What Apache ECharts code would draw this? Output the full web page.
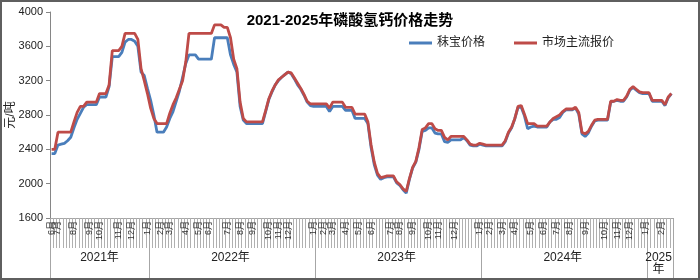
<!DOCTYPE html>
<html>
<head>
<meta charset="utf-8">
<script src="https://cdn.jsdelivr.net/npm/echarts@6/dist/echarts.min.js"></script>
<style>html,body{margin:0;padding:0;background:#fff;}#c{width:700px;height:280px;}</style>
</head>
<body>
<div id="c"></div>
<script>
// ---- Data ----
const titleText = '2021-2025年磷酸氢钙价格走势';
const seriesNames = ['秣宝价格', '市场主流报价'];
const yTicks = [1600, 2000, 2400, 2800, 3200, 3600, 4000];

// month tick labels: [category index, label]
const monthTicks = [
  [0,'6月'],[2,'7月'],[7,'8月'],[12,'9月'],[15,'10月'],[21,'11月'],[25,'12月'],[30,'1月'],
  [34,'2月'],[37,'3月'],[42,'4月'],[46,'5月'],[49,'6月'],[55,'7月'],[59,'8月'],[63,'9月'],[68,'10月'],[71,'11月'],[74,'12月'],[82,'1月'],
  [85,'2月'],[88,'3月'],[92,'4月'],[96,'5月'],[100,'6月'],[106,'7月'],[109,'8月'],[113,'9月'],[118,'10月'],[121,'11月'],[126,'12月'],[134,'1月'],
  [137,'2月'],[141,'3月'],[145,'4月'],[150,'5月'],[154,'6月'],[158,'7月'],[162,'8月'],[167,'9月'],[173,'10月'],[177,'11月'],[181,'12月'],[186,'1月'],
  [191,'2月']
];
// year groups: [label, number of categories]
const yearGroups = [['2021年',31],['2022年',52],['2023年',52],['2024年',52],['2025\n年',8]];

const mobaoPrice = [
  2350,2350,2450,2460,2470,2500,2540,2650,2750,2820,
  2890,2920,2920,2920,2920,3010,3010,3010,3130,3480,
  3480,3480,3530,3650,3680,3680,3660,3600,3300,3260,
  3110,2970,2800,2600,2600,2600,2660,2760,2840,2960,
  3080,3240,3400,3500,3500,3500,3450,3450,3450,3450,
  3450,3700,3700,3700,3700,3700,3500,3390,3300,2900,
  2740,2700,2700,2700,2700,2700,2700,2840,2980,3070,
  3150,3200,3240,3270,3300,3280,3220,3150,3100,3030,
  2950,2910,2900,2900,2900,2900,2900,2840,2900,2900,
  2900,2900,2855,2855,2855,2760,2760,2760,2760,2700,
  2420,2220,2100,2050,2070,2080,2080,2080,2010,1980,
  1930,1890,2050,2180,2250,2400,2610,2620,2650,2650,
  2590,2580,2580,2490,2480,2510,2510,2510,2510,2540,
  2500,2450,2440,2440,2460,2450,2440,2440,2440,2440,
  2440,2440,2490,2590,2650,2760,2890,2890,2790,2640,
  2660,2670,2660,2660,2660,2660,2720,2750,2750,2770,
  2830,2860,2860,2860,2880,2810,2580,2550,2590,2670,
  2730,2740,2740,2740,2740,2950,2960,2970,2960,2960,
  3010,3090,3120,3090,3060,3050,3050,3050,2960,2960,
  2960,2960,2910,3000,3050
];
const marketPrice = [
  2400,2400,2600,2600,2600,2600,2600,2720,2830,2900,
  2900,2950,2950,2950,2950,3050,3050,3050,3150,3550,
  3550,3550,3600,3750,3750,3750,3750,3680,3340,3200,
  3050,2880,2760,2700,2700,2700,2700,2820,2920,3000,
  3100,3200,3420,3750,3750,3750,3750,3750,3750,3750,
  3750,3850,3850,3850,3820,3820,3700,3450,3340,2950,
  2760,2720,2720,2720,2720,2720,2720,2850,2990,3080,
  3150,3210,3240,3270,3300,3290,3230,3170,3110,3040,
  2960,2930,2930,2930,2930,2930,2930,2880,2950,2950,
  2950,2950,2890,2890,2890,2810,2810,2810,2810,2720,
  2450,2250,2120,2070,2080,2090,2090,2090,2020,1990,
  1940,1910,2060,2190,2260,2420,2630,2650,2700,2700,
  2640,2620,2620,2540,2510,2550,2550,2550,2550,2550,
  2510,2460,2450,2450,2470,2460,2450,2450,2450,2450,
  2450,2450,2500,2600,2660,2760,2900,2910,2810,2700,
  2700,2700,2670,2670,2670,2670,2720,2760,2780,2800,
  2840,2870,2870,2870,2890,2830,2600,2580,2610,2680,
  2740,2750,2750,2750,2750,2960,2960,2980,2970,2970,
  3020,3100,3130,3100,3070,3060,3060,3060,2970,2970,
  2970,2970,2920,3010,3050
];

// ---- Build helpers ----
const N = mobaoPrice.length;
const categories = mobaoPrice.map((_, i) => 'w' + i);
const monthMap = {};
monthTicks.forEach(([i, l]) => { monthMap[i] = l; });
const yearStart = {}, yearMid = {};
let acc = 0;
yearGroups.forEach(([l, n]) => { yearStart[acc] = true; yearMid[acc + Math.floor((n - 1) / 2)] = l; acc += n; });
yearStart[acc] = true;

const FONT = '"Liberation Sans", "Noto Sans CJK SC", sans-serif';
const chart = echarts.init(document.getElementById('c'), null, {renderer: 'canvas'});
chart.setOption({
  animation: false,
  backgroundColor: '#fff',
  title: {
    text: titleText, left: 'center', top: 13, padding: 0,
    textStyle: {fontSize: 15, fontWeight: 'bold', color: '#000', fontFamily: FONT}
  },
  legend: {
    data: seriesNames, left: 409, top: 37, padding: 0,
    icon: 'rect', itemWidth: 23, itemHeight: 3, itemGap: 29,
    textStyle: {fontSize: 12, color: '#222', fontFamily: FONT}
  },
  grid: {left: 50, right: 27, top: 12, bottom: 62, containLabel: false, outerBoundsMode: 'none'},
  xAxis: [{
    type: 'category', data: categories, boundaryGap: true,
    axisLine: {show: true, lineStyle: {color: '#a6a6a6', width: 1}},
    axisTick: {show: true, interval: 0, length: 30, lineStyle: {color: '#b0b0b0', width: 1}},
    axisLabel: {
      interval: 0, rotate: 90, margin: 3, fontSize: 9, color: '#333', fontFamily: FONT,
      formatter: (v, i) => monthMap[i] || ''
    },
    splitLine: {show: false}
  }, {
    type: 'category', data: categories, boundaryGap: true, position: 'bottom', offset: 0,
    axisLine: {show: false},
    axisTick: {show: true, interval: (i) => !!yearStart[i], length: 60, lineStyle: {color: '#a6a6a6', width: 1}},
    axisLabel: {
      interval: (i) => yearMid[i] !== undefined, margin: 34, fontSize: 12, lineHeight: 12,
      color: '#222', fontFamily: FONT,
      formatter: (v, i) => yearMid[i] || ''
    },
    splitLine: {show: false}
  }],
  yAxis: {
    type: 'value', min: yTicks[0], max: yTicks[yTicks.length - 1], interval: 400,
    name: '元/吨', nameLocation: 'middle', nameGap: 33, nameRotate: 90, nameMoveOverlap: false,
    nameTextStyle: {fontSize: 12, color: '#222', fontFamily: FONT},
    axisLine: {show: true, lineStyle: {color: '#868686'}},
    axisTick: {show: true, length: 4, lineStyle: {color: '#868686'}},
    axisLabel: {fontSize: 11, color: '#222', margin: 7, fontFamily: FONT, formatter: (v) => String(v)},
    splitLine: {show: false}
  },
  series: [{
    name: seriesNames[0], type: 'line', data: mobaoPrice, symbol: 'none',
    itemStyle: {color: '#4a7ebb'},
    lineStyle: {width: 2.8, color: '#4a7ebb'}
  }, {
    name: seriesNames[1], type: 'line', data: marketPrice, symbol: 'none',
    itemStyle: {color: '#be4b48'},
    lineStyle: {width: 2.8, color: '#be4b48'}
  }],
  graphic: [{
    type: 'rect', z: 100, silent: true,
    shape: {x: 1, y: 1, width: 698, height: 278},
    style: {fill: 'none', stroke: '#5f5f5f', lineWidth: 2}
  }]
});
</script>
</body>
</html>
